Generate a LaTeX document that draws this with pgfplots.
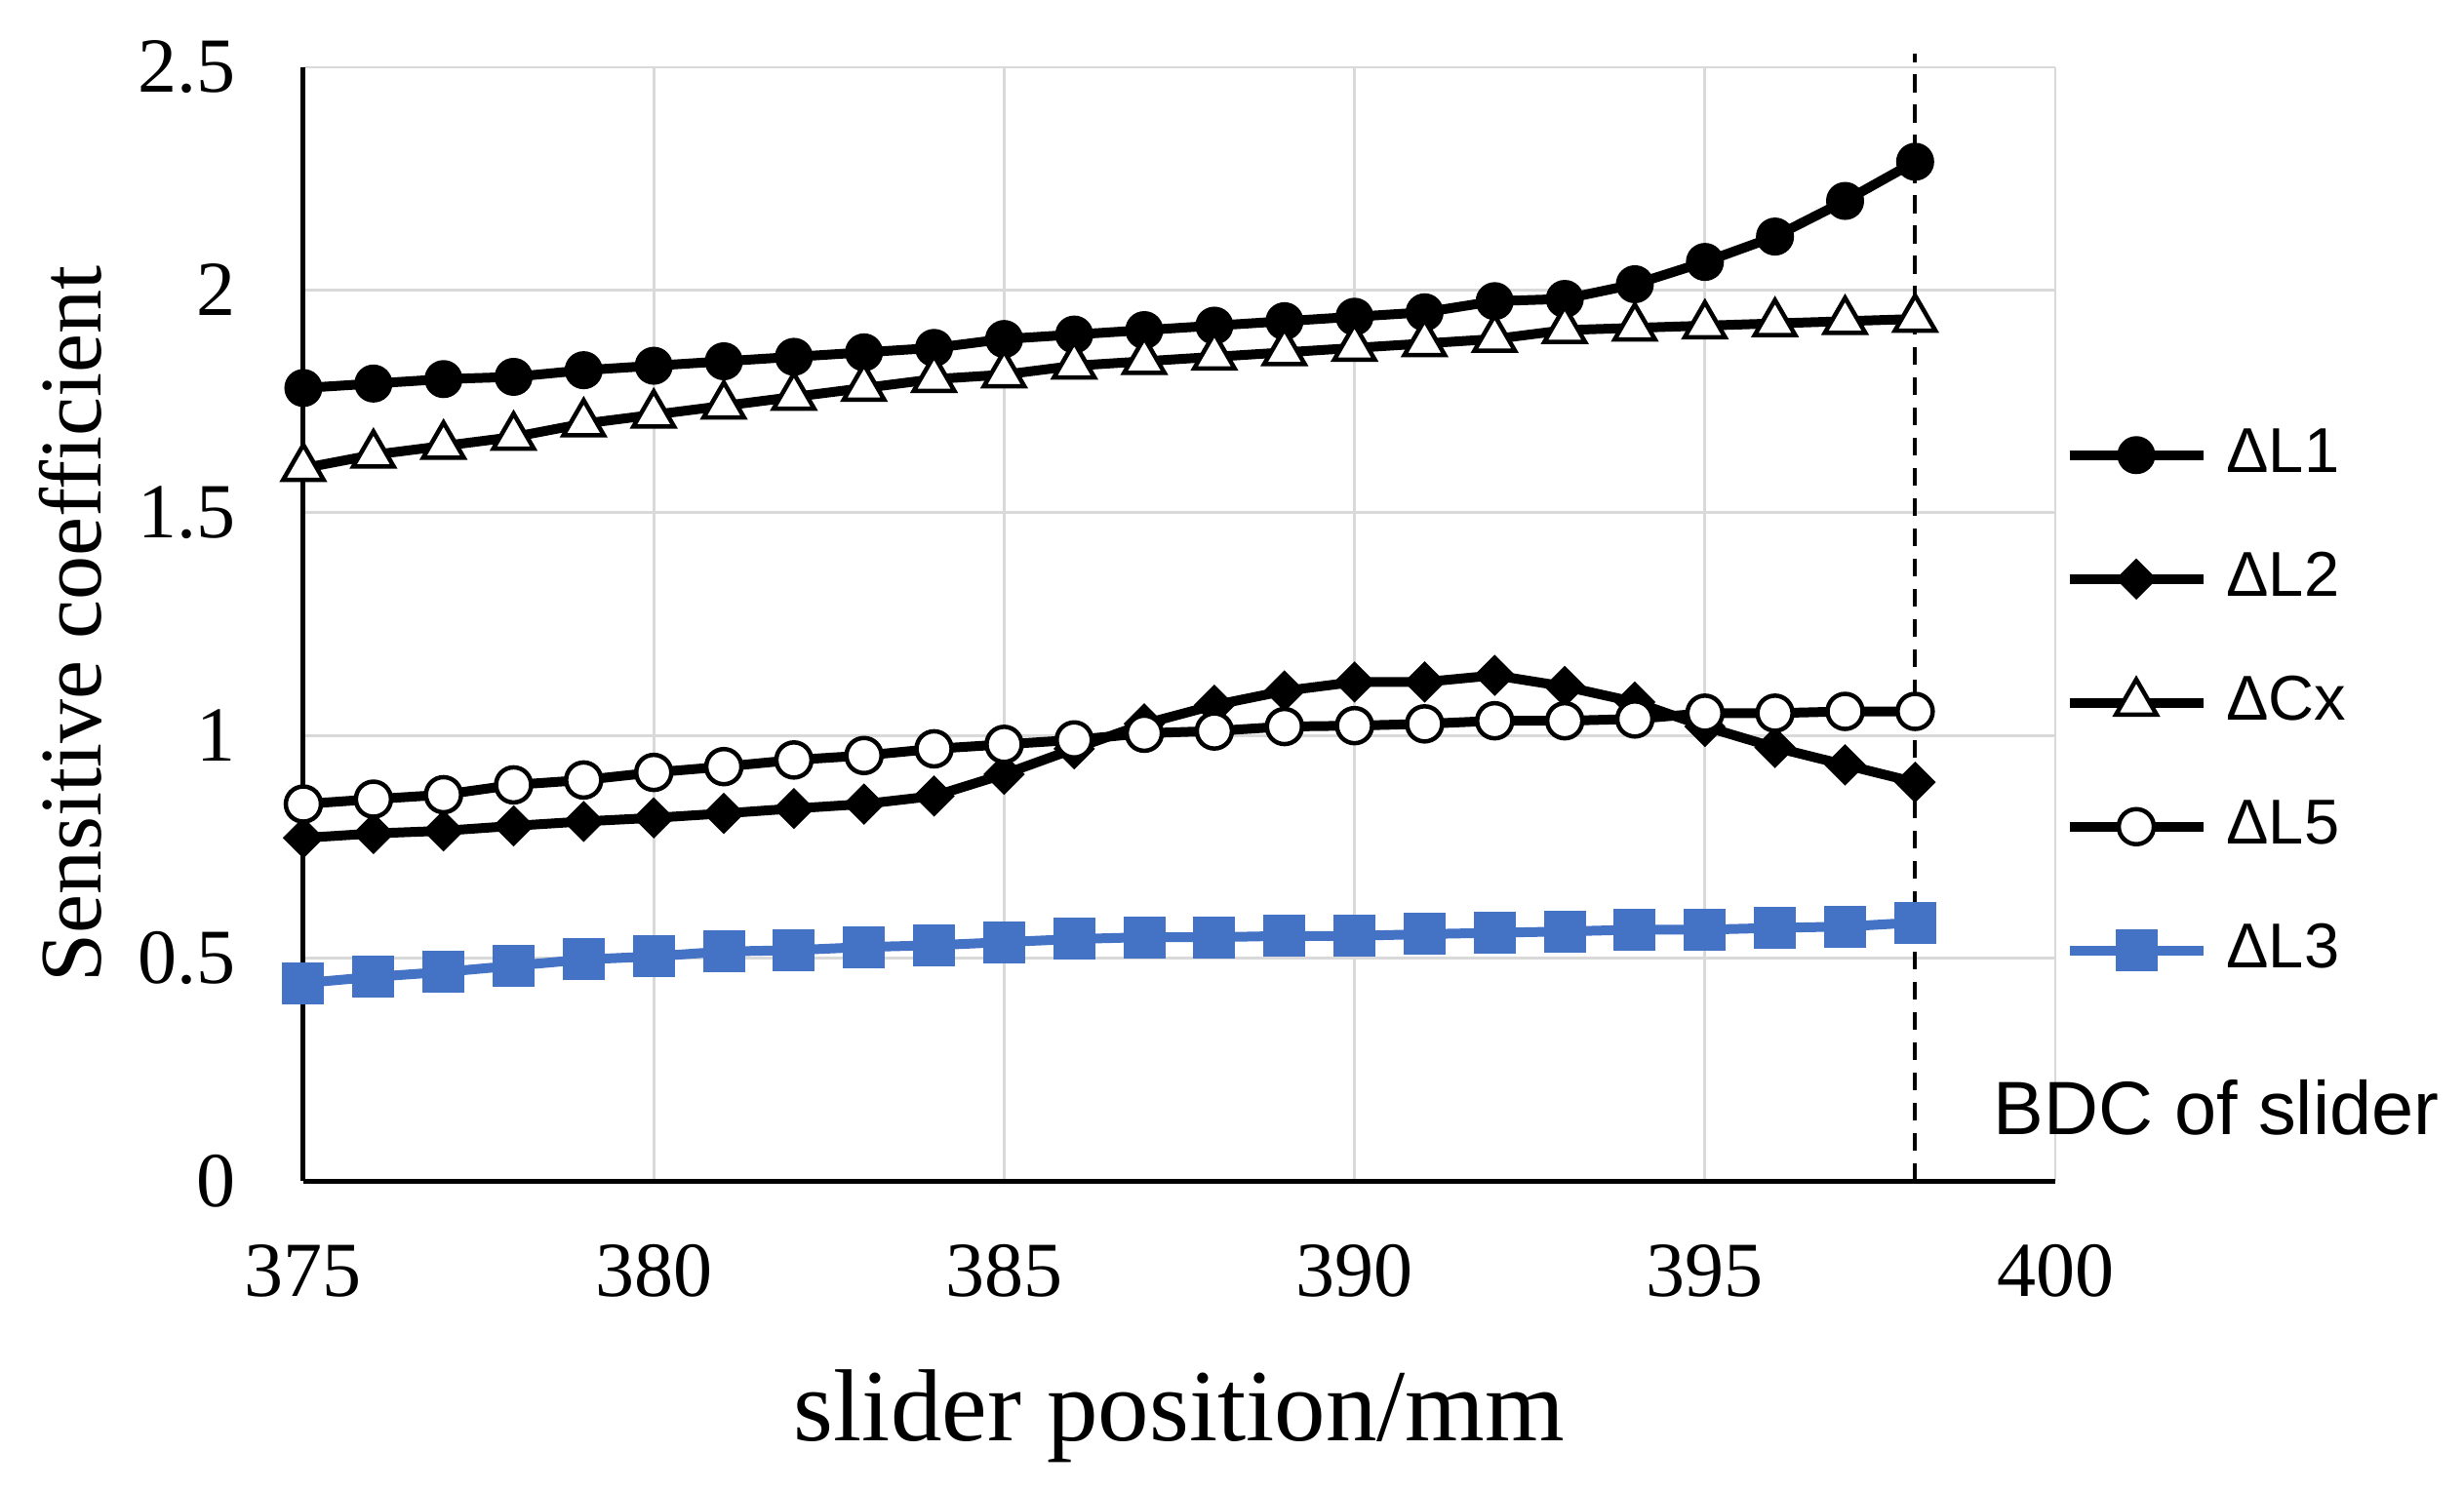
\documentclass[border=0pt]{standalone}
\usepackage{fontspec}
\setmainfont{Liberation Serif}
\newfontfamily\legfont{Liberation Sans}
\usepackage{pgfplots}
\pgfplotsset{compat=1.18}
\definecolor{bl}{HTML}{4472C4}
\definecolor{gr}{HTML}{D9D9D9}
\begin{document}
\begin{tikzpicture}
\begin{axis}[
  at={(0,0)}, anchor=south west,
  scale only axis, width=359.2pt, height=228.4pt,
  xmin=375, xmax=400, ymin=0, ymax=2.5,
  xtick={375,380,385,390,395,400}, ytick={0,0.5,1,1.5,2,2.5},
  axis x line*=bottom, axis y line*=left,
  axis line style={line width=1pt, -},
  grid=major, major grid style={gr, line width=0.55pt},
  major tick length=0pt,
  tick label style={font=\fontsize{16}{16}\selectfont},
  /pgf/number format/assume math mode=true,
  yticklabel style={xshift=-10.3pt},
  xticklabel style={yshift=-9.5pt},
  xlabel={slider position/mm}, ylabel={Sensitive coefficient},
  xlabel style={at={(axis description cs:0.5,-0.211)}, anchor=center, font=\fontsize{21}{21}\selectfont},
  ylabel style={at={(axis description cs:-0.1331,0.5)}, anchor=center, font=\fontsize{18}{18}\selectfont},
  clip=false,
  legend style={at={(axis description cs:1.0053,0.692)}, anchor=north west, draw=none, fill=none,
    inner sep=0pt, outer sep=0pt, row sep=0pt, column sep=3.8pt,
    font=\legfont\fontsize{13}{13}\selectfont,
    nodes={inner sep=0pt, text height=12.7pt, text depth=12.7pt}},
  legend cell align=left,
  legend image code/.code={\draw[mark repeat=2, mark phase=2, #1] plot coordinates {(0pt,0.35em) (13.7pt,0.35em) (27.4pt,0.35em)};},
]
\addplot[black, line width=2pt, mark=*, mark size=3.6pt, mark options={line width=0.6pt}] coordinates {
(375,1.78) (376,1.79) (377,1.80) (378,1.805) (379,1.82) (380,1.83) (381,1.84) (382,1.85) (383,1.86) (384,1.87) (385,1.89) (386,1.90) (387,1.91) (388,1.92) (389,1.93) (390,1.94) (391,1.95) (392,1.975) (393,1.98) (394,2.013) (395,2.063) (396,2.12) (397,2.20) (398,2.288)};
\addlegendentry{ΔL1}
\addplot[black, line width=2pt, mark=square*, mark size=2.7pt, mark options={rotate=45, line width=0.6pt}] coordinates {
(375,0.77) (376,0.78) (377,0.786) (378,0.797) (379,0.807) (380,0.815) (381,0.825) (382,0.836) (383,0.846) (384,0.864) (385,0.913) (386,0.97) (387,1.026) (388,1.068) (389,1.10) (390,1.12) (391,1.12) (392,1.135) (393,1.11) (394,1.075) (395,1.02) (396,0.973) (397,0.934) (398,0.895)};
\addlegendentry{ΔL2}
\addplot[black, line width=2pt, mark=triangle*, mark size=4.8pt, mark options={fill=white, draw=black, line width=0.9pt}] coordinates {
(375,1.60) (376,1.63) (377,1.65) (378,1.67) (379,1.70) (380,1.72) (381,1.74) (382,1.76) (383,1.78) (384,1.80) (385,1.81) (386,1.83) (387,1.84) (388,1.85) (389,1.86) (390,1.87) (391,1.88) (392,1.89) (393,1.91) (394,1.915) (395,1.92) (396,1.925) (397,1.93) (398,1.935)};
\addlegendentry{ΔCx}
\addplot[black, line width=2pt, mark=*, mark size=3.6pt, mark options={fill=white, draw=black, line width=0.9pt}] coordinates {
(375,0.846) (376,0.857) (377,0.867) (378,0.889) (379,0.90) (380,0.917) (381,0.93) (382,0.945) (383,0.955) (384,0.97) (385,0.98) (386,0.99) (387,1.005) (388,1.01) (389,1.02) (390,1.022) (391,1.026) (392,1.033) (393,1.033) (394,1.037) (395,1.05) (396,1.05) (397,1.054) (398,1.054)};
\addlegendentry{ΔL5}
\addplot[bl, line width=2pt, mark=square*, mark size=4.1pt, mark options={line width=0.4pt}] coordinates {
(375,0.444) (376,0.458) (377,0.469) (378,0.483) (379,0.497) (380,0.504) (381,0.515) (382,0.518) (383,0.525) (384,0.529) (385,0.536) (386,0.543) (387,0.547) (388,0.547) (389,0.55) (390,0.55) (391,0.554) (392,0.557) (393,0.56) (394,0.564) (395,0.564) (396,0.568) (397,0.571) (398,0.58)};
\addlegendentry{ΔL3}
\draw[black, line width=0.8pt, dash pattern=on 3.7pt off 2.5pt] (axis cs:398,0) -- (axis cs:398,2.53);
\node[font=\legfont\fontsize{15.5}{15.5}\selectfont, anchor=center] at (axis cs:402.3,0.164) {BDC of slider};
\end{axis}
\pgfresetboundingbox
\useasboundingbox (-62.2pt,-63.2pt) rectangle (443pt,242.2pt);
\end{tikzpicture}
\end{document}
